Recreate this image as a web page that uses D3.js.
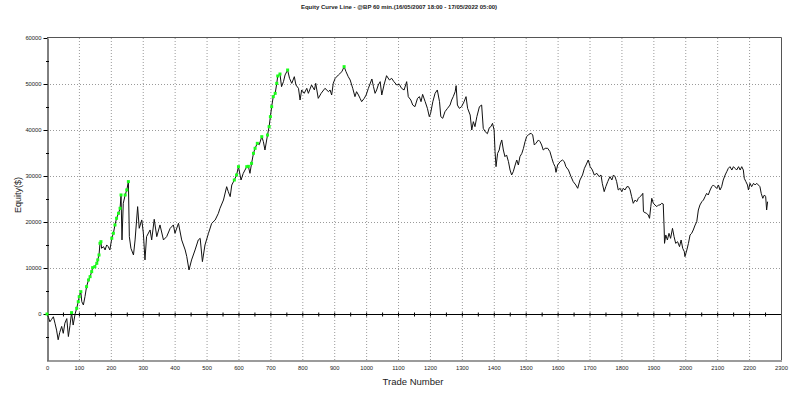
<!DOCTYPE html>
<html>
<head>
<meta charset="utf-8">
<script src="https://cdn.jsdelivr.net/npm/d3@7"></script>
<style>
body { margin: 0; background: #fff; }
svg { display: block; font-family: "Liberation Sans", Arial, sans-serif; }
</style>
</head>
<body>
<svg class="chart" width="800" height="396"></svg>
<script>
// trade number / closed equity
const trades = [0,5,9,14,20,25,30,35,40,46,51,56,62,67,72,77,82,88,93,98,101,106,109,114,119,124,130,135,140,143,150,156,159,163,166,169,171,177,182,187,192,197,203,208,213,218,224,229,232,235,239,245,250,255,258,263,271,276,284,289,297,302,307,312,323,328,336,344,354,365,375,386,396,401,412,422,433,438,445,453,464,474,480,487,495,506,516,527,537,542,553,563,568,574,579,587,594,600,608,615,626,631,636,641,647,652,659,665,673,678,683,691,696,700,704,709,715,720,723,730,735,741,746,754,760,767,775,780,788,793,798,806,814,819,829,838,842,850,859,871,882,887,892,897,903,913,924,931,937,944,950,958,965,970,976,981,986,994,1000,1007,1018,1023,1028,1033,1038,1044,1049,1056,1064,1073,1080,1087,1096,1104,1111,1119,1127,1132,1140,1146,1153,1161,1167,1172,1177,1185,1192,1198,1202,1209,1216,1223,1230,1234,1240,1247,1255,1263,1268,1273,1279,1282,1286,1292,1299,1307,1313,1318,1326,1331,1336,1341,1347,1355,1362,1367,1373,1380,1386,1391,1396,1401,1404,1407,1412,1417,1420,1425,1430,1435,1440,1446,1451,1456,1461,1467,1472,1477,1482,1488,1493,1498,1503,1510,1517,1522,1527,1532,1540,1545,1550,1555,1561,1569,1576,1582,1587,1592,1595,1600,1608,1615,1621,1626,1634,1642,1649,1657,1663,1670,1678,1684,1689,1696,1702,1709,1715,1723,1730,1736,1740,1746,1751,1757,1764,1770,1775,1780,1785,1790,1796,1801,1806,1811,1817,1822,1827,1832,1837,1843,1848,1853,1858,1864,1867,1869,1874,1879,1884,1888,1892,1895,1900,1905,1911,1916,1921,1926,1931,1934,1935,1939,1944,1949,1954,1960,1965,1970,1976,1982,1987,1992,1997,1999,2005,2010,2015,2020,2025,2031,2036,2041,2046,2052,2057,2062,2067,2072,2078,2083,2088,2093,2099,2104,2109,2114,2119,2125,2130,2135,2140,2146,2151,2156,2161,2167,2172,2177,2182,2185,2190,2195,2198,2203,2208,2214,2219,2224,2229,2234,2238,2243,2248,2252,2255,2258];
const equity = [0,-800,-1700,-1200,-600,-2000,-3500,-5600,-4000,-2700,-4200,-2000,-1000,-4900,-2500,300,-2400,0,1230,2680,3770,4860,2680,1960,3770,5950,7400,8120,9210,10080,10300,11020,11750,12830,15370,15730,14280,14650,13920,15010,14650,13920,16460,17550,19360,20810,21900,22980,25880,16100,24070,25880,26970,28780,16820,14280,12830,16100,23340,18630,20450,17550,11750,16820,18270,16100,20590,16820,19360,16100,16820,18630,19360,17550,19720,16100,13920,12470,9570,11750,13920,16100,16450,11380,15000,17540,19700,20440,21880,22970,24780,27680,26600,25510,28040,29130,30220,32030,29130,30580,32030,32100,30580,32750,34930,36020,37100,36800,38550,37470,35650,38910,40730,42900,45070,47250,47970,50140,51740,52170,49420,50510,51960,53040,51230,50140,51590,49780,49060,46520,48700,47970,49060,47970,49780,48700,50140,46880,47970,49060,48330,48700,47610,50140,51230,51960,52680,53770,52680,51590,50870,49060,47250,48330,47610,46880,46160,46880,47610,49060,51090,49420,47970,48700,49780,50510,47610,49780,51810,50870,51230,50510,49780,49930,49060,48700,50510,47250,46520,45430,45070,46880,47250,46160,47750,46160,44710,42900,43620,46160,47970,48700,46160,42900,42540,43980,44710,45430,46520,47250,48330,49640,45430,44710,45070,46160,47250,44710,43260,40000,41810,40730,42900,45070,45430,40360,39640,39200,40500,40730,41450,40000,35290,32030,34930,35650,36740,37830,35650,34200,34570,33120,31300,30220,30940,32390,33480,32390,34200,34930,36020,37460,38550,39060,39280,38910,36740,37100,37830,37460,36740,35650,36020,36020,35290,33840,32750,32030,30800,32390,33120,33480,33120,32030,31300,29860,28770,28050,27320,29130,30220,31670,32390,33480,32030,31300,30220,30580,29860,30220,28410,26600,27680,28770,29860,29130,30220,29860,28770,26960,27320,26600,27320,26960,27680,27680,27000,25500,24060,24780,24420,25150,25510,25870,26230,22250,22030,21880,21520,20800,23340,25150,24060,23700,23340,23700,23700,24060,23910,18260,15360,17180,16090,17540,16450,18620,16810,15360,15720,14640,16090,14280,13550,12470,13920,15360,17180,17540,18260,19350,20070,22610,23700,24420,24780,25510,26230,25870,26960,27680,28050,27680,27320,28050,26960,27680,29130,30220,30940,31670,32030,31300,32030,31670,31300,32030,31300,32030,31300,29490,28770,28050,26960,28410,27680,28410,28050,28410,28050,27680,26230,25150,25870,25510,22610,24420];

const xTicks = d3.range(0, 2301, 100);
const xMinor = d3.range(0, 2301, 50);
const yTicks = d3.range(0, 60001, 10000);
const yMinor = d3.range(-10000, 60001, 5000);
const titleText = 'Equity Curve Line - @BP 60 min.(16/05/2007 18:00 - 17/05/2022 05:00)';

const svgObj = d3.select('.chart');
const x = d3.scaleLinear().domain([0, 2300]).range([47, 781]);
const y = d3.scaleLinear().domain([-10000, 60000]).range([360, 38]);

const points = trades.map((t, i) => ({t: t, v: equity[i]}));

// new equity highs get the green marker
let runMax = -Infinity;
const highs = points.filter(d => {
	if (d.v >= runMax) { runMax = d.v; return true; }
	return false;
});

// dotted grid
svgObj.append('g').selectAll('line')
	.data(xTicks.filter(d => d > 0 && d < 2300))
	.enter().append('line')
	.attr('x1', d => x(d) + 0.5).attr('x2', d => x(d) + 0.5)
	.attr('y1', 38).attr('y2', 360)
	.attr('stroke', '#9a9a9a').attr('stroke-dasharray', '1,2');

svgObj.append('g').selectAll('line')
	.data(yTicks.filter(d => d > 0 && d < 60000))
	.enter().append('line')
	.attr('x1', 47).attr('x2', 781)
	.attr('y1', d => Math.round(y(d)) + 0.5).attr('y2', d => Math.round(y(d)) + 0.5)
	.attr('stroke', '#9a9a9a').attr('stroke-dasharray', '1,2');

// frame
svgObj.append('line').attr('x1', 47).attr('x2', 781.5).attr('y1', 37.5).attr('y2', 37.5)
	.attr('stroke', '#555');
svgObj.append('line').attr('x1', 781.5).attr('x2', 781.5).attr('y1', 37.5).attr('y2', 362)
	.attr('stroke', '#555');
svgObj.append('line').attr('x1', 47).attr('x2', 782).attr('y1', 361).attr('y2', 361)
	.attr('stroke', '#9b9b9b').attr('stroke-width', 2);

// y axis
const yAxis = svgObj.append('g')
	.attr('transform', 'translate(47.5,0)')
	.call(d3.axisLeft(y).tickValues(yTicks).tickSize(4).tickSizeOuter(0).tickPadding(2).tickFormat(d3.format('d')));
yAxis.select('.domain').attr('stroke', '#000');
yAxis.selectAll('text').attr('font-size', '5.8px').attr('fill', '#222')
	.attr('font-family', '"Liberation Sans", Arial, sans-serif');

svgObj.append('g').selectAll('line')
	.data(yMinor.filter(d => d % 10000 !== 0))
	.enter().append('line')
	.attr('x1', 46).attr('x2', 49)
	.attr('y1', d => Math.round(y(d)) + 0.5).attr('y2', d => Math.round(y(d)) + 0.5)
	.attr('stroke', '#000');

// zero line with small ticks
svgObj.append('line').attr('x1', 47).attr('x2', 781)
	.attr('y1', Math.round(y(0)) + 0.5).attr('y2', Math.round(y(0)) + 0.5)
	.attr('stroke', '#000');
svgObj.append('g').selectAll('line')
	.data(xMinor.filter(d => d > 0 && d < 2300))
	.enter().append('line')
	.attr('x1', d => x(d) + 0.5).attr('x2', d => x(d) + 0.5)
	.attr('y1', y(0) - 1.5).attr('y2', y(0) + 2.5)
	.attr('stroke', '#000');

// x tick labels under the frame
const xAxis = svgObj.append('g')
	.attr('transform', 'translate(0,362)')
	.call(d3.axisBottom(x).tickValues(xTicks).tickSize(0).tickPadding(4).tickFormat(d3.format('d')));
xAxis.select('.domain').remove();
xAxis.selectAll('text').attr('font-size', '5.8px').attr('fill', '#222')
	.attr('font-family', '"Liberation Sans", Arial, sans-serif');

// equity line
const lineGen = d3.line().x(d => x(d.t)).y(d => y(d.v));
svgObj.append('path')
	.datum(points)
	.attr('d', lineGen)
	.attr('fill', 'none')
	.attr('stroke', '#111')
	.attr('stroke-width', 1)
	.attr('stroke-linejoin', 'round');

svgObj.append('g').selectAll('rect')
	.data(highs)
	.enter().append('rect')
	.attr('x', d => x(d.t) - 1.5).attr('y', d => y(d.v) - 1.5)
	.attr('width', 3).attr('height', 3)
	.attr('fill', '#1aff1a');

// titles
svgObj.append('text')
	.attr('x', 399).attr('y', 9)
	.attr('text-anchor', 'middle')
	.attr('font-size', '6px').attr('font-weight', 'bold').attr('fill', '#222')
	.text(titleText);

svgObj.append('text')
	.attr('transform', 'translate(21,195) rotate(-90)')
	.attr('text-anchor', 'middle')
	.attr('font-size', '9px').attr('fill', '#222')
	.text('Equity($)');

svgObj.append('text')
	.attr('x', 413).attr('y', 385)
	.attr('text-anchor', 'middle')
	.attr('font-size', '9.5px').attr('fill', '#222')
	.text('Trade Number');
</script>
</body>
</html>
